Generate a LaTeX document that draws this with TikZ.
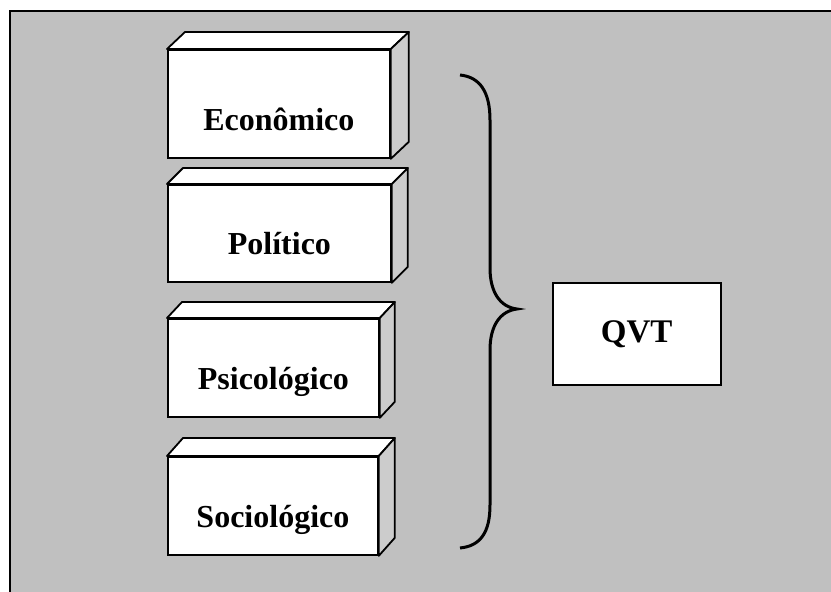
\documentclass[tikz,border=0pt]{standalone}
\usepackage{fontspec}
\setmainfont{Liberation Serif}
\usetikzlibrary{calc}
\definecolor{bggray}{RGB}{192,192,192}
\definecolor{sidegray}{RGB}{204,204,204}
\tikzset{
  frontface/.style={draw=black, fill=white, line width=1.8pt, rectangle, inner sep=0pt, anchor=north west},
  topface/.style={draw=black, fill=white, line width=1.8pt, line join=round},
  sideface/.style={draw=black, fill=sidegray, line width=1.8pt, line join=round},
  boxlabel/.style={anchor=base, inner sep=0pt, font=\fontsize{32}{37}\selectfont\bfseries},
  qvtbox/.style={draw=black, fill=white, line width=1.5pt, rectangle, inner sep=0pt, anchor=north west, minimum width=168pt, minimum height=102pt, font=\fontsize{33}{38}\selectfont\bfseries},
  bracestyle/.style={draw=black, line width=3pt, line cap=butt}
}
\newcommand{\mybox}[8]{%
  % #1 name, #2 x, #3 y, #4 width, #5 height, #6 dx, #7 dy, #8 text
  \node[frontface, minimum width=#4pt, minimum height=#5pt] (#1) at (#2,#3) {};
  \draw[topface] (#1.north west) -- ++(#6,#7) -- ([shift={(#6,#7)}]#1.north east) -- (#1.north east) -- cycle;
  \draw[sideface] (#1.north east) -- ([shift={(#6,#7)}]#1.north east) -- ([shift={(#6,#7)}]#1.south east) -- (#1.south east) -- cycle;
  \node[boxlabel] (#1l) at ([yshift=28pt]#1.south) {#8};
}
\begin{document}
\begin{tikzpicture}[x=1pt,y=-1pt]
\useasboundingbox (0,0) rectangle (831,592);
\fill[white] (0,0) rectangle (831,592);
\draw[fill=bggray, line width=2pt] (10,11) rectangle (845,605);
\mybox{eco}{167}{49}{222}{108}{18}{-17}{Econômico}
\mybox{pol}{167}{184}{223}{97}{16}{-16}{Político}
\mybox{psi}{167}{318}{211}{98}{15}{-16}{Psicológico}
\mybox{soc}{167}{456}{210}{98}{16}{-18}{Sociológico}
\node[qvtbox] (qvt) at (552,282) {QVT};
\coordinate (bt) at (460,75);
\coordinate (bb) at (460,548);
\coordinate (tip) at (517,309);
\draw[bracestyle] (bt) .. controls (480,77) and (490,92) .. (490,120)
  -- (490,268) .. controls (490,292) and (500,307) .. (tip)
  .. controls (500,311) and (490,326) .. (490,350)
  -- (490,505) .. controls (490,533) and (480,546) .. (bb);
\end{tikzpicture}
\end{document}
